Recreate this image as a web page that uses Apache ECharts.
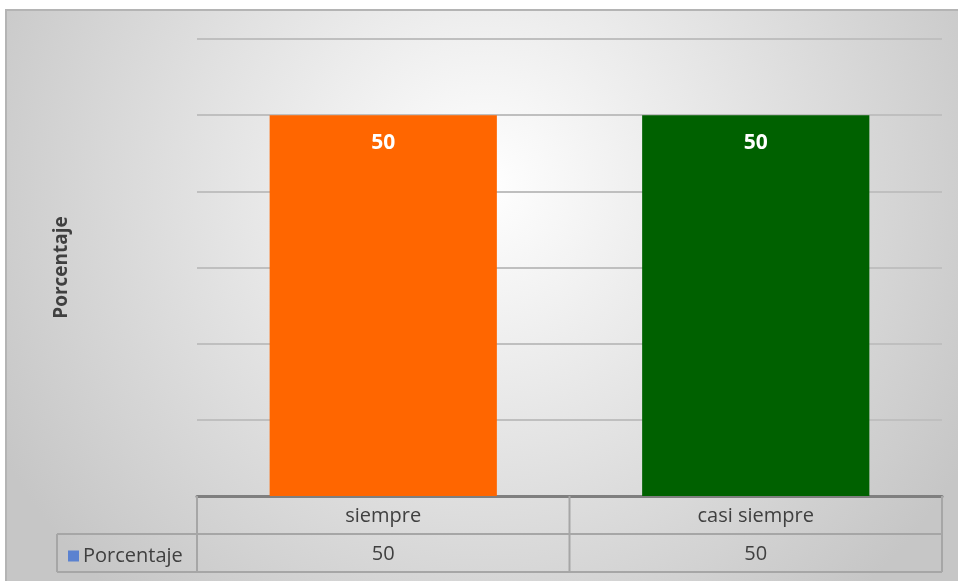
<!DOCTYPE html>
<html>
<head>
<meta charset="utf-8">
<script src="https://cdn.jsdelivr.net/npm/echarts@6/dist/echarts.min.js"></script>
<style>
  html, body { margin: 0; padding: 0; background: #ffffff; }
  #chart { width: 958px; height: 581px; }
</style>
</head>
<body>
<div id="chart"></div>
<script>
// Categories and values for the single series
const categories = ['siempre', 'casi siempre'];
const values = [50, 50];
const barColors = ['#FF6600', '#006100'];
const seriesName = 'Porcentaje';

// Plot area and data-table geometry
const plotLeft = 197, plotRight = 942, plotTop = 39, plotBottom = 496;
const rowH = 38, legendLeft = 57;
const W = 958, H = 581;

const chart = echarts.init(document.getElementById('chart'), null, { renderer: 'canvas' });

const lineColor = '#a6a6a6';
function hLine(x1, x2, y) {
  return { type: 'line', shape: { x1: x1, y1: y, x2: x2, y2: y }, style: { stroke: lineColor, lineWidth: 2 }, z: 10 };
}
function vLine(x, y1, y2) {
  return { type: 'line', shape: { x1: x, y1: y1, x2: x, y2: y2 }, style: { stroke: lineColor, lineWidth: 2 }, z: 10 };
}
const midX = (plotLeft + plotRight) / 2;
const tableFont = 20;

const option = {
  animation: false,
  backgroundColor: '#ffffff',
  textStyle: { fontFamily: 'Open Sans' },
  graphic: [
    {
      type: 'rect', z: -10, silent: true,
      shape: { x: 6, y: 10, width: W, height: H },
      style: {
        fill: new echarts.graphic.RadialGradient(0.5, 0.3, 0.95, [
          { offset: 0, color: '#ffffff' },
          { offset: 1, color: '#c6c6c6' }
        ]),
        stroke: '#b4b4b4', lineWidth: 2
      }
    },
    // data table frame
    hLine(plotLeft, plotRight, plotBottom + rowH),
    hLine(legendLeft, plotRight, plotBottom + 2 * rowH),
    hLine(legendLeft, plotLeft, plotBottom + rowH),
    vLine(plotLeft, plotBottom, plotBottom + 2 * rowH),
    vLine(midX, plotBottom, plotBottom + 2 * rowH),
    vLine(plotRight, plotBottom, plotBottom + 2 * rowH),
    vLine(legendLeft, plotBottom + rowH, plotBottom + 2 * rowH)
  ],
  legend: {
    data: [seriesName],
    left: legendLeft + 6,
    top: plotBottom + rowH + 7,
    icon: 'rect',
    itemWidth: 11,
    itemHeight: 11,
    itemGap: 5,
    itemStyle: { color: '#5b82d0' },
    textStyle: { fontSize: tableFont, color: '#404040', fontFamily: 'Open Sans', padding: [0, 0, 0, -1] }
  },
  grid: {
    left: plotLeft, right: W - plotRight, top: plotTop, bottom: H - plotBottom,
    containLabel: false
  },
  xAxis: [
    {
      type: 'category',
      data: categories,
      position: 'bottom',
      axisLine: { show: true, lineStyle: { color: '#7f7f7f', width: 3 } },
      axisTick: { show: false },
      axisLabel: { margin: 10, fontSize: tableFont, color: '#404040', fontFamily: 'Open Sans' }
    },
    {
      type: 'category',
      data: categories,
      position: 'bottom',
      offset: rowH,
      axisLine: { show: false },
      axisTick: { show: false },
      axisLabel: {
        margin: 10, fontSize: tableFont, color: '#404040', fontFamily: 'Open Sans',
        formatter: function (v, i) { return String(values[i]); }
      }
    }
  ],
  yAxis: {
    type: 'value',
    min: 0, max: 60, interval: 10,
    name: 'Porcentaje',
    nameLocation: 'middle',
    nameGap: 126,
    nameRotate: 90,
    nameTextStyle: { fontSize: 19, fontWeight: 'bold', color: '#404040', fontFamily: 'Open Sans' },
    axisLabel: { show: false },
    axisLine: { show: false },
    axisTick: { show: false },
    splitLine: { lineStyle: { color: '#bfbfbf', width: 2 } }
  },
  series: [
    {
      name: seriesName,
      type: 'bar',
      xAxisIndex: 0,
      barCategoryGap: '39%',
      itemStyle: { color: '#4472C4' },
      data: values.map(function (v, i) {
        return { value: v, itemStyle: { color: barColors[i] } };
      }),
      label: {
        show: true, position: 'insideTop', distance: 17,
        fontSize: 21, fontWeight: 'bold', color: '#ffffff', fontFamily: 'Open Sans'
      }
    }
  ]
};

chart.setOption(option);
</script>
</body>
</html>
